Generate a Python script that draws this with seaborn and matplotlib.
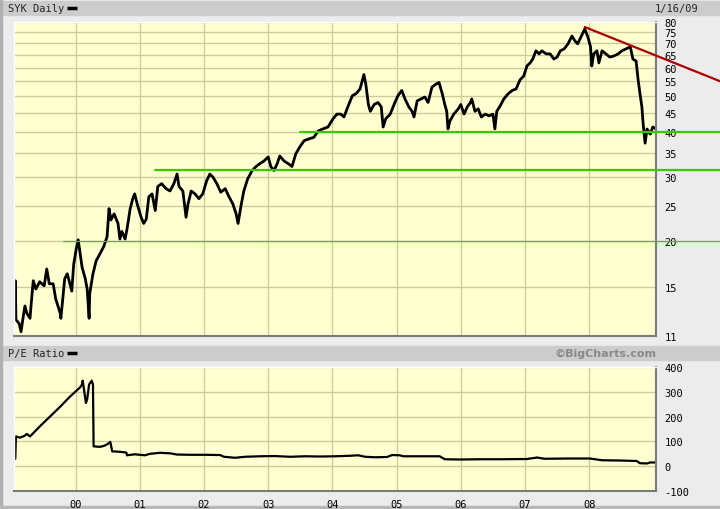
import pandas as pd
import matplotlib
matplotlib.use("Agg")
import matplotlib.pyplot as plt
from matplotlib.patches import Rectangle
from matplotlib.lines import Line2D
from matplotlib.ticker import NullLocator
import seaborn as sns

# SYK daily price (decimal year, price in $)
price_year = [1999.05, 1999.06, 1999.07, 1999.12, 1999.15, 1999.18, 1999.21, 1999.24, 1999.29, 1999.30,
              1999.34, 1999.38, 1999.44, 1999.51, 1999.55, 1999.59, 1999.65, 1999.69, 1999.76, 1999.77,
              1999.80, 1999.83, 1999.87, 1999.91, 1999.94, 1999.97, 2000.01, 2000.04, 2000.07, 2000.10,
              2000.15, 2000.18, 2000.21, 2000.22, 2000.27, 2000.32, 2000.38, 2000.44, 2000.49, 2000.52,
              2000.55, 2000.60, 2000.66, 2000.69, 2000.72, 2000.77, 2000.80, 2000.85, 2000.89, 2000.92,
              2000.96, 2001.02, 2001.06, 2001.10, 2001.14, 2001.19, 2001.24, 2001.28, 2001.34, 2001.41,
              2001.47, 2001.53, 2001.58, 2001.61, 2001.67, 2001.72, 2001.75, 2001.80, 2001.86, 2001.92,
              2001.98, 2002.04, 2002.09, 2002.14, 2002.20, 2002.26, 2002.33, 2002.39, 2002.45, 2002.50,
              2002.53, 2002.58, 2002.62, 2002.68, 2002.75, 2002.81, 2002.87, 2002.93, 2003.00, 2003.04,
              2003.09, 2003.14, 2003.18, 2003.25, 2003.31, 2003.37, 2003.43, 2003.49, 2003.56, 2003.63,
              2003.71, 2003.78, 2003.85, 2003.93, 2004.01, 2004.07, 2004.13, 2004.18, 2004.24, 2004.31,
              2004.37, 2004.43, 2004.49, 2004.52, 2004.56, 2004.59, 2004.65, 2004.71, 2004.76, 2004.79,
              2004.83, 2004.90, 2004.96, 2005.02, 2005.08, 2005.13, 2005.19, 2005.24, 2005.27, 2005.32,
              2005.38, 2005.44, 2005.49, 2005.55, 2005.61, 2005.66, 2005.71, 2005.75, 2005.78, 2005.80,
              2005.83, 2005.89, 2005.96, 2006.00, 2006.05, 2006.10, 2006.15, 2006.17, 2006.22, 2006.27,
              2006.32, 2006.38, 2006.44, 2006.50, 2006.53, 2006.56, 2006.61, 2006.67, 2006.74, 2006.80,
              2006.86, 2006.92, 2006.98, 2007.03, 2007.08, 2007.12, 2007.17, 2007.22, 2007.26, 2007.33,
              2007.39, 2007.45, 2007.50, 2007.55, 2007.61, 2007.67, 2007.73, 2007.78, 2007.82, 2007.87,
              2007.93, 2007.98, 2008.02, 2008.04, 2008.07, 2008.12, 2008.15, 2008.20, 2008.26, 2008.32,
              2008.38, 2008.45, 2008.51, 2008.57, 2008.64, 2008.68, 2008.73, 2008.76, 2008.79, 2008.82,
              2008.84, 2008.87, 2008.90, 2008.95, 2008.99, 2009.04]
price_value = [12.5, 15.6, 12.2, 11.9, 11.3, 12.3, 13.3, 12.7, 12.3, 13.0,
               15.6, 14.8, 15.5, 15.1, 16.8, 15.3, 15.3, 13.9, 12.7, 12.3,
               13.9, 15.8, 16.3, 15.3, 14.6, 17.3, 19.1, 20.2, 18.5, 17.0,
               15.8, 14.8, 12.3, 14.4, 16.3, 17.7, 18.5, 19.4, 20.6, 24.6,
               22.9, 23.8, 22.4, 20.3, 21.3, 20.3, 21.6, 24.6, 26.2, 27.0,
               25.3, 23.3, 22.4, 23.0, 26.5, 27.0, 24.3, 28.3, 28.8, 27.9,
               27.5, 28.8, 30.6, 28.3, 27.5, 23.3, 25.3, 27.5, 27.0, 26.2,
               27.0, 29.3, 30.6, 30.0, 28.8, 27.3, 27.9, 26.5, 25.3, 23.8,
               22.4, 25.3, 27.5, 29.7, 31.3, 32.1, 32.7, 33.2, 34.1, 32.1,
               31.3, 32.7, 34.3, 33.2, 32.7, 32.1, 34.8, 36.3, 37.8, 38.2,
               38.6, 40.2, 40.7, 41.2, 43.4, 44.7, 44.7, 43.9, 46.8, 50.2,
               50.9, 52.4, 57.4, 54.0, 47.5, 45.5, 47.5, 48.1, 46.8, 41.2,
               43.4, 44.7, 47.5, 50.2, 51.9, 49.2, 46.8, 45.5, 43.9, 48.6,
               49.2, 49.8, 48.1, 53.0, 54.0, 54.6, 50.9, 47.5, 45.5, 40.7,
               42.8, 44.7, 46.2, 47.5, 44.7, 46.8, 48.1, 49.2, 45.5, 46.2,
               43.9, 44.7, 44.2, 44.7, 40.7, 45.5, 47.0, 49.2, 50.9, 51.9,
               52.4, 55.4, 56.9, 60.6, 61.8, 63.3, 66.7, 65.4, 66.7, 65.4,
               65.4, 63.3, 64.1, 66.7, 67.5, 69.7, 73.2, 70.9, 69.7, 72.7,
               76.5, 72.7, 68.4, 60.6, 65.4, 66.7, 61.8, 66.7, 65.4, 64.1,
               64.5, 65.4, 66.7, 67.5, 68.4, 63.3, 62.5, 55.8, 50.9, 46.8,
               42.0, 37.2, 40.7, 39.4, 41.2, 40.7]

# P/E ratio (decimal year, ratio)
pe_year = [1999.06, 1999.07, 1999.13, 1999.20, 1999.24, 1999.29, 1999.44, 1999.60, 1999.76, 1999.91,
           2000.07, 2000.10, 2000.11, 2000.13, 2000.16, 2000.18, 2000.21, 2000.24, 2000.25, 2000.27,
           2000.28, 2000.38, 2000.44, 2000.49, 2000.54, 2000.57, 2000.69, 2000.79, 2000.80, 2000.92,
           2001.08, 2001.16, 2001.31, 2001.47, 2001.58, 2001.78, 2002.01, 2002.25, 2002.31, 2002.48,
           2002.64, 2002.87, 2003.10, 2003.34, 2003.57, 2003.81, 2004.04, 2004.27, 2004.40, 2004.51,
           2004.66, 2004.85, 2004.93, 2005.05, 2005.10, 2005.36, 2005.67, 2005.75, 2005.98, 2006.30,
           2006.61, 2007.03, 2007.19, 2007.30, 2007.69, 2008.01, 2008.20, 2008.47, 2008.74, 2008.79,
           2008.90, 2008.95, 2009.04]
pe_value = [30, 120, 115, 122, 130, 120, 160, 200, 240, 280,
            318, 330, 345, 310, 255, 270, 330, 340, 345, 330,
            80, 78, 82, 88, 98, 60, 58, 55, 44, 48,
            44, 50, 54, 52, 47, 46, 46, 45, 38, 34,
            38, 40, 41, 38, 40, 39, 40, 42, 44, 38,
            36, 37, 45, 44, 40, 40, 40, 28, 27, 28,
            28, 29, 35, 30, 31, 31, 24, 23, 21, 12,
            11, 15, 15]

year_ticks = [2000, 2001, 2002, 2003, 2004, 2005, 2006, 2007, 2008]
year_labels = ["00", "01", "02", "03", "04", "05", "06", "07", "08"]
price_ticks = [11, 15, 20, 25, 30, 35, 40, 45, 50, 55, 60, 65, 70, 75, 80]
pe_ticks = [-100, 0, 100, 200, 300, 400]

# support lines (start year, level) and the falling trend line
support_start = [1999.80, 2001.24, 2003.49]
support_level = [20.0, 31.4, 40.0]
support_lw = [0.9, 1.6, 1.6]
trend_year = [2007.93, 2010.04]
trend_value = [77.5, 55.0]

price = pd.DataFrame({"ano": price_year, "preco": price_value})
pe = pd.DataFrame({"ano": pe_year, "pe": pe_value})

sns.set_theme(style="white")
plt.rcParams["font.family"] = ["DejaVu Sans Mono", "DejaVu Sans"]

W, H = 720, 510
fig = plt.figure(figsize=(7.2, 5.1), dpi=100, facecolor="#ececec")

# header bars
for top in (2, 347):
    fig.add_artist(Rectangle((2 / W, 1 - (top + 14) / H), 718 / W, 14 / H,
                             transform=fig.transFigure, color="#cccccc", zorder=0))
fig.add_artist(Rectangle((0, 0), 2 / W, 1, transform=fig.transFigure, color="#b0b0b0", zorder=0))
fig.add_artist(Rectangle((0, 0), 1, 3 / H, transform=fig.transFigure, color="#b8b8b8", zorder=0))

fig.text(8 / W, 1 - 9 / H, "SYK Daily", fontsize=7.5, va="center", ha="left")
fig.add_artist(Line2D([67 / W, 77 / W], [1 - 9 / H, 1 - 9 / H], transform=fig.transFigure,
                      color="black", lw=2.5, solid_capstyle="butt"))
fig.text(698 / W, 1 - 9 / H, "1/16/09", fontsize=7.5, va="center", ha="right")
fig.text(8 / W, 1 - 354 / H, "P/E Ratio", fontsize=7.5, va="center", ha="left")
fig.add_artist(Line2D([67 / W, 77 / W], [1 - 354 / H, 1 - 354 / H], transform=fig.transFigure,
                      color="black", lw=2.5, solid_capstyle="butt"))
fig.text(656 / W, 1 - 354 / H, "©BigCharts.com", fontsize=8, va="center", ha="right",
         color="#8a8a8a", fontweight="bold", family="DejaVu Sans")

ax1 = fig.add_axes([14 / W, 1 - 337 / H, 642 / W, 314 / H])
ax2 = fig.add_axes([14 / W, 1 - 492 / H, 642 / W, 124 / H])

for ax in (ax1, ax2):
    ax.set_facecolor("#ffffd2")
    ax.set_xlim(1999.04, 2009.04)
    ax.set_xticks(year_ticks)
    ax.grid(True, color="#cdcd9a", lw=1.0)
    ax.set_axisbelow(True)
    ax.yaxis.tick_right()
    ax.tick_params(length=0, labelsize=7.5, pad=6, colors="black")
    for s in ("left", "top"):
        ax.spines[s].set_color("white")
        ax.spines[s].set_linewidth(1)
    for s in ("right", "bottom"):
        ax.spines[s].set_color("#7a7a7a")
        ax.spines[s].set_linewidth(1.5)

# upper panel: price, log scale
sns.lineplot(data=price, x="ano", y="preco", ax=ax1, color="black", lw=2.0,
             estimator=None, sort=False)
ax1.set_yscale("log")
ax1.set_ylim(11, 80)
ax1.set_yticks(price_ticks)
ax1.set_yticklabels([str(t) for t in price_ticks])
ax1.yaxis.set_minor_locator(NullLocator())
ax1.set_xticklabels([])
ax1.set_xlabel("")
ax1.set_ylabel("")

for start, level, lw in zip(support_start, support_level, support_lw):
    ax1.plot([start, 2010.04], [level, level], color="#33cc00", lw=lw, clip_on=False, zorder=5)
ax1.plot(trend_year, trend_value, color="#aa0000", lw=1.6, clip_on=False, zorder=5)

# lower panel: P/E ratio
sns.lineplot(data=pe, x="ano", y="pe", ax=ax2, color="black", lw=1.6,
             estimator=None, sort=False)
ax2.set_ylim(-100, 400)
ax2.set_yticks(pe_ticks)
ax2.set_yticklabels([str(t) for t in pe_ticks])
ax2.set_xticklabels(year_labels)
ax2.set_xlabel("")
ax2.set_ylabel("")

fig.savefig("out.png", dpi=100, facecolor=fig.get_facecolor())
